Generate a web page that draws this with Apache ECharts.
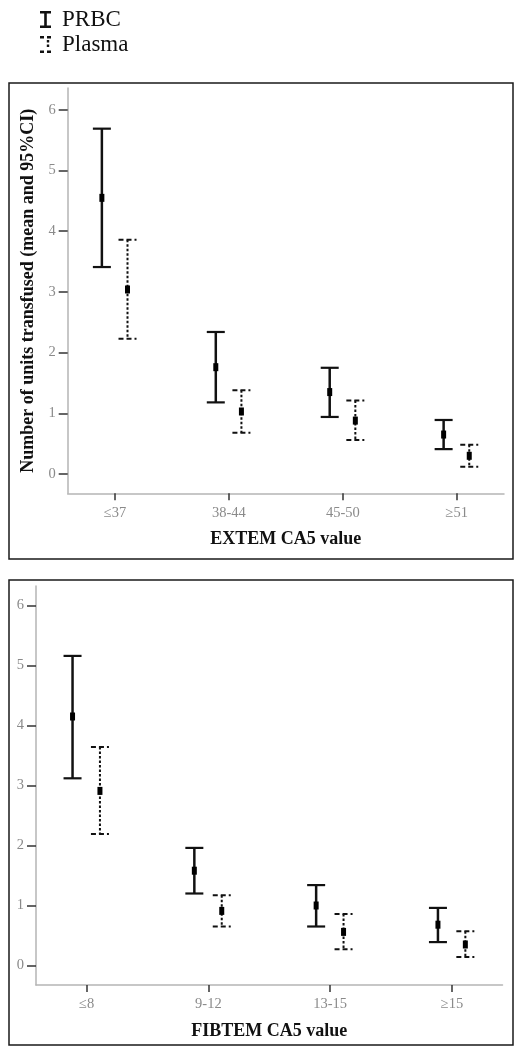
<!DOCTYPE html>
<html>
<head>
<meta charset="utf-8">
<script src="https://cdn.jsdelivr.net/npm/echarts@6/dist/echarts.min.js"></script>
<style>
html,body{margin:0;padding:0;background:#fff;}
#chart{width:515px;height:1054px;}
</style>
</head>
<body>
<div id="chart"></div>
<script>
// ---- data ----
const extemCats = ['≤37', '38-44', '45-50', '≥51'];
const fibtemCats = ['≤8', '9-12', '13-15', '≥15'];
const yTicks = [0, 1, 2, 3, 4, 5, 6];

const extemPrbcMean = [4.55, 1.76, 1.35, 0.65];
const extemPrbcLow = [3.41, 1.18, 0.94, 0.41];
const extemPrbcHigh = [5.69, 2.34, 1.75, 0.89];
const extemPlasmaMean = [3.04, 1.03, 0.88, 0.30];
const extemPlasmaLow = [2.23, 0.68, 0.56, 0.12];
const extemPlasmaHigh = [3.86, 1.38, 1.21, 0.48];

const fibtemPrbcMean = [4.15, 1.58, 1.00, 0.68];
const fibtemPrbcLow = [3.12, 1.20, 0.65, 0.39];
const fibtemPrbcHigh = [5.16, 1.96, 1.34, 0.96];
const fibtemPlasmaMean = [2.91, 0.91, 0.56, 0.35];
const fibtemPlasmaLow = [2.19, 0.65, 0.27, 0.14];
const fibtemPlasmaHigh = [3.64, 1.17, 0.86, 0.57];

const seriesNames = ['PRBC', 'Plasma'];
const xAxisTitles = ['EXTEM CA5 value', 'FIBTEM CA5 value'];
const yAxisTitle = 'Number of units transfused (mean and 95%CI)';

// ---- build ----
const FONT = "'Liberation Serif', 'Times New Roman', serif";
const PRBC_OFF = -0.115, PLASMA_OFF = 0.11;

function rows(offset, lows, means, highs) {
  return means.map((m, i) => [i + offset, lows[i], m, highs[i]]);
}

function makeRender(dashed) {
  return function (params, api) {
    const x = api.value(0);
    const pHi = api.coord([x, api.value(3)]);
    const pLo = api.coord([x, api.value(1)]);
    const pM = api.coord([x, api.value(2)]);
    const half = 9;
    const capStyle = dashed
      ? { stroke: '#111', lineWidth: 2, lineDash: [5, 3], fill: null }
      : { stroke: '#111', lineWidth: 2.2, fill: null };
    const vStyle = dashed
      ? { stroke: '#111', lineWidth: 2, lineDash: [2.5, 2], fill: null }
      : { stroke: '#111', lineWidth: 2.5, fill: null };
    return {
      type: 'group',
      children: [
        { type: 'line', shape: { x1: pHi[0], y1: pHi[1], x2: pLo[0], y2: pLo[1] }, style: vStyle },
        { type: 'line', shape: { x1: pHi[0] - half, y1: pHi[1], x2: pHi[0] + half, y2: pHi[1] }, style: capStyle },
        { type: 'line', shape: { x1: pLo[0] - half, y1: pLo[1], x2: pLo[0] + half, y2: pLo[1] }, style: capStyle },
        { type: 'rect', shape: { x: pM[0] - 2.5, y: pM[1] - 4, width: 5, height: 8 }, style: { fill: '#000' } }
      ]
    };
  };
}

function xAxisFor(idx, cats) {
  return {
    type: 'value', gridIndex: idx, min: -0.415, max: 3.415,
    name: xAxisTitles[idx], nameLocation: 'middle', nameGap: 37,
    nameTextStyle: { fontFamily: FONT, fontWeight: 'bold', fontSize: 18, color: '#111' },
    axisLine: { show: true, onZero: false, lineStyle: { color: '#b5b5b5', width: 1.5 } },
    axisTick: { show: true, length: 7, customValues: [0, 1, 2, 3], lineStyle: { color: '#333', width: 1.5 } },
    axisLabel: { customValues: [0, 1, 2, 3], margin: 12, fontFamily: FONT, fontSize: 14.5, color: '#8a8a8a',
      formatter: v => cats[Math.round(v)] },
    splitLine: { show: false }
  };
}

function yAxisFor(idx, min, max, withName) {
  const ax = {
    type: 'value', gridIndex: idx, min: min, max: max,
    axisLine: { show: true, onZero: false, lineStyle: { color: '#b5b5b5', width: 1.5 } },
    axisTick: { show: true, length: 9, customValues: yTicks, lineStyle: { color: '#333', width: 1.5 } },
    axisLabel: { customValues: yTicks, margin: 12, fontFamily: FONT, fontSize: 14.5, color: '#8a8a8a' },
    splitLine: { show: false }
  };
  if (withName) {
    ax.name = yAxisTitle;
    ax.nameLocation = 'middle';
    ax.nameGap = 30;
    ax.nameTextStyle = { fontFamily: FONT, fontWeight: 'bold', fontSize: 18, color: '#111' };
  }
  return ax;
}

const prbcIcon = 'path://M0,0H11V2.5H6.8V14.5H11V17H0V14.5H4.2V2.5H0Z';
const plasmaIcon = 'path://M0,0H4V2.5H0Z M7,0H11V2.5H7Z M6.8,4H9.2V6.5H6.8Z M6.8,8.5H9.2V11H6.8Z M0,14.5H4V17H0Z M7,14.5H11V17H7Z';

const chart = echarts.init(document.getElementById('chart'), null, { renderer: 'canvas' });
chart.setOption({
  animation: false,
  backgroundColor: '#fff',
  legend: {
    orient: 'vertical', left: 40, top: 8, padding: 0, itemWidth: 11, itemHeight: 17, itemGap: 2,
    textStyle: { fontFamily: FONT, fontSize: 23, color: '#111', padding: [0, 0, 0, 6] },
    data: [
      { name: seriesNames[0], icon: prbcIcon, itemStyle: { color: '#111' } },
      { name: seriesNames[1], icon: plasmaIcon, itemStyle: { color: '#111' } }
    ]
  },
  graphic: [
    { type: 'rect', shape: { x: 9, y: 83, width: 504, height: 476 }, style: { fill: null, stroke: '#1a1a1a', lineWidth: 1.5 }, silent: true },
    { type: 'rect', shape: { x: 9, y: 580, width: 504, height: 465 }, style: { fill: null, stroke: '#1a1a1a', lineWidth: 1.5 }, silent: true }
  ],
  grid: [
    { left: 67.7, right: 11, top: 88, bottom: 560.7 },
    { left: 36, right: 12.5, top: 586, bottom: 69 }
  ],
  xAxis: [xAxisFor(0, extemCats), xAxisFor(1, fibtemCats)],
  yAxis: [yAxisFor(0, -0.318, 6.36, true), yAxisFor(1, -0.325, 6.325, false)],
  series: [
    { name: seriesNames[0], type: 'custom', xAxisIndex: 0, yAxisIndex: 0, itemStyle: { color: '#111' },
      renderItem: makeRender(false), encode: { x: 0, y: [1, 2, 3] },
      data: rows(PRBC_OFF, extemPrbcLow, extemPrbcMean, extemPrbcHigh) },
    { name: seriesNames[1], type: 'custom', xAxisIndex: 0, yAxisIndex: 0, itemStyle: { color: '#111' },
      renderItem: makeRender(true), encode: { x: 0, y: [1, 2, 3] },
      data: rows(PLASMA_OFF, extemPlasmaLow, extemPlasmaMean, extemPlasmaHigh) },
    { name: seriesNames[0], type: 'custom', xAxisIndex: 1, yAxisIndex: 1, itemStyle: { color: '#111' },
      renderItem: makeRender(false), encode: { x: 0, y: [1, 2, 3] },
      data: rows(PRBC_OFF, fibtemPrbcLow, fibtemPrbcMean, fibtemPrbcHigh) },
    { name: seriesNames[1], type: 'custom', xAxisIndex: 1, yAxisIndex: 1, itemStyle: { color: '#111' },
      renderItem: makeRender(true), encode: { x: 0, y: [1, 2, 3] },
      data: rows(PLASMA_OFF, fibtemPlasmaLow, fibtemPlasmaMean, fibtemPlasmaHigh) }
  ]
});
</script>
</body>
</html>
